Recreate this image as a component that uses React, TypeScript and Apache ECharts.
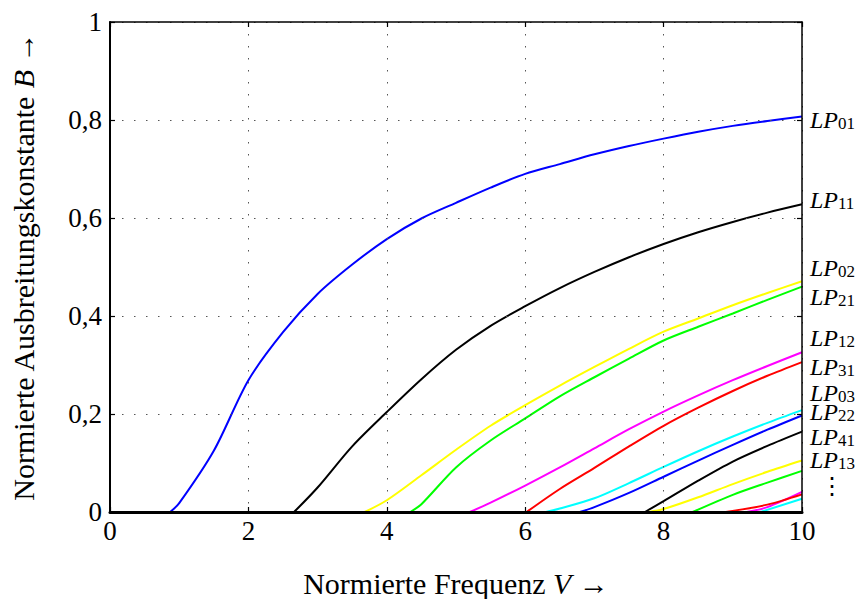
import React, { useEffect, useRef } from "react";
import * as echarts from "echarts";

// Normierte Frequenz V / Normierte Ausbreitungskonstante B
const lp01: number[][] = [[0.87, 0], [1.0, 0.018], [1.5, 0.125], [2.0, 0.269], [2.5, 0.367], [3.0, 0.445], [3.5, 0.505], [4.0, 0.557], [4.5, 0.599], [5.0, 0.631], [5.5, 0.662], [6.0, 0.69], [6.5, 0.71], [7.0, 0.73], [7.5, 0.747], [8.0, 0.762], [8.5, 0.776], [9.0, 0.788], [9.5, 0.798], [10, 0.807]];
const lp11: number[][] = [[2.66, 0], [3.0, 0.05], [3.5, 0.134], [4.0, 0.204], [4.5, 0.271], [5.0, 0.331], [5.5, 0.38], [6.0, 0.42], [6.5, 0.457], [7.0, 0.49], [7.5, 0.52], [8.0, 0.547], [8.5, 0.571], [9.0, 0.592], [9.5, 0.611], [10, 0.628]];
const lp02: number[][] = [[3.68, 0], [4.0, 0.024], [4.5, 0.075], [5.0, 0.127], [5.5, 0.176], [6.0, 0.218], [6.5, 0.258], [7.0, 0.296], [7.5, 0.333], [8.0, 0.368], [8.5, 0.395], [9.0, 0.422], [9.5, 0.447], [10, 0.471]];
const lp21: number[][] = [[4.34, 0], [4.5, 0.016], [5.0, 0.091], [5.5, 0.146], [6.0, 0.191], [6.5, 0.236], [7.0, 0.275], [7.5, 0.313], [8.0, 0.35], [8.5, 0.378], [9.0, 0.405], [9.5, 0.433], [10, 0.46]];
const lp12: number[][] = [[5.2, 0], [5.5, 0.019], [6.0, 0.054], [6.5, 0.091], [7.0, 0.13], [7.5, 0.169], [8.0, 0.205], [8.5, 0.238], [9.0, 0.269], [9.5, 0.298], [10, 0.326]];
const lp31: number[][] = [[6.02, 0], [6.5, 0.047], [7.0, 0.09], [7.5, 0.134], [8.0, 0.176], [8.5, 0.213], [9.0, 0.247], [9.5, 0.278], [10, 0.306]];
const lp03: number[][] = [[6.3, 0], [6.5, 0.007], [7.0, 0.028], [7.5, 0.059], [8.0, 0.092], [8.5, 0.124], [9.0, 0.154], [9.5, 0.182], [10, 0.208]];
const lp22: number[][] = [[6.79, 0], [7.0, 0.01], [7.5, 0.039], [8.0, 0.072], [8.5, 0.105], [9.0, 0.137], [9.5, 0.168], [10, 0.197]];
const lp41: number[][] = [[7.73, 0], [8.0, 0.022], [8.5, 0.064], [9.0, 0.103], [9.5, 0.135], [10, 0.164]];
const lp13: number[][] = [[7.78, 0], [8.0, 0.006], [8.5, 0.03], [9.0, 0.057], [9.5, 0.082], [10, 0.105]];
const mode11: number[][] = [[8.42, 0], [9.0, 0.035], [9.5, 0.06], [10, 0.084]];
const mode12: number[][] = [[9.2, 0], [9.5, 0.01], [10, 0.041]];
const mode13: number[][] = [[8.9, 0], [9.5, 0.015], [10, 0.036]];
const mode14: number[][] = [[9.4, 0], [10, 0.027]];

const modeData = [lp01, lp11, lp02, lp21, lp12, lp31, lp03, lp22, lp41, lp13, mode11, mode12, mode13, mode14];
const modeSub = ["01", "11", "02", "21", "12", "31", "03", "22", "41", "13", "", "", "", ""];
const modeColors = ["#0000ff", "#000000", "#ffff00", "#00ff00", "#ff00ff", "#ff0000", "#00ffff", "#0000ff", "#000000", "#ffff00", "#00ff00", "#ff00ff", "#ff0000", "#00ffff"];
const labelShift = [3, -4, -13, 10, -14, 5, -17, -3, 5, -1, 0, 0, 0, 0];

const xTicks = [0, 2, 4, 6, 8, 10];
const yTicks = [0, 0.2, 0.4, 0.6, 0.8, 1];

const FONT = "'Liberation Serif', 'DejaVu Serif', serif";

export default function App() {
  const ref = useRef<HTMLDivElement>(null);
  useEffect(() => {
    if (!ref.current) return;
    const chart = echarts.init(ref.current, undefined, { renderer: "svg" });
    const dotted = { type: [1.5, 10.5] as any, color: "#555", width: 1 };
    const richName = {
      r: { fontFamily: FONT, fontSize: 30, color: "#000", lineHeight: 30 },
      i: { fontFamily: FONT, fontSize: 30, fontStyle: "italic", color: "#000", lineHeight: 30 },
    };
    const option: any = {
      animation: false,
      grid: { left: 102, right: 58, top: 14, bottom: 87, containLabel: false, outerBoundsMode: "none" },
      xAxis: [
        {
          type: "value", min: xTicks[0], max: xTicks[xTicks.length - 1], interval: 2, position: "bottom", z: 10,
          axisLine: { show: true, onZero: false, lineStyle: { color: "#000", width: 3 } },
          axisTick: { show: true, inside: true, length: 5, lineStyle: { color: "#000", width: 1.2 } },
          axisLabel: { fontFamily: FONT, fontSize: 27, color: "#000", margin: 5 },
          splitLine: { show: true, lineStyle: dotted },
          name: "{r|Normierte Frequenz }{i|V}{r| →}", nameLocation: "middle", nameGap: 56,
          nameTextStyle: { rich: richName },
        },
        {
          type: "value", min: xTicks[0], max: xTicks[xTicks.length - 1], interval: 2, position: "top", z: 10,
          axisLine: { show: true, onZero: false, lineStyle: { color: "#000", width: 1.5 } },
          axisTick: { show: true, inside: true, length: 5, lineStyle: { color: "#000", width: 1.2 } },
          axisLabel: { show: false }, splitLine: { show: false },
        },
      ],
      yAxis: [
        {
          type: "value", min: yTicks[0], max: yTicks[yTicks.length - 1], interval: 0.2, position: "left", z: 10,
          axisLine: { show: true, onZero: false, lineStyle: { color: "#000", width: 2 } },
          axisTick: { show: true, inside: true, length: 5, lineStyle: { color: "#000", width: 1.2 } },
          axisLabel: {
            fontFamily: FONT, fontSize: 27, color: "#000", margin: 8,
            formatter: (v: number) => String(Math.round(v * 10) / 10).replace(".", ","),
          },
          splitLine: { show: true, lineStyle: dotted },
          name: "{r|Normierte Ausbreitungskonstante }{i|B}{r| →}", nameLocation: "middle", nameGap: 72,
          nameTextStyle: { rich: richName },
        },
        {
          type: "value", min: yTicks[0], max: yTicks[yTicks.length - 1], interval: 0.2, position: "right", z: 10,
          axisLine: { show: true, onZero: false, lineStyle: { color: "#000", width: 1.5 } },
          axisTick: { show: true, inside: true, length: 5, lineStyle: { color: "#000", width: 1.2 } },
          axisLabel: { show: false }, splitLine: { show: false },
        },
      ],
      series: modeData.map((d, i) => ({
        type: "line",
        data: d,
        showSymbol: false,
        smooth: 0.3,
        lineStyle: { color: modeColors[i], width: 2 },
        itemStyle: { color: modeColors[i] },
        z: 2,
        endLabel: modeSub[i]
          ? {
              show: true,
              distance: 8,
              offset: [0, labelShift[i]],
              formatter: `{a|LP}{b|${modeSub[i]}}`,
              rich: {
                a: { fontFamily: FONT, fontStyle: "italic", fontSize: 24, color: "#000", lineHeight: 24 },
                b: { fontFamily: FONT, fontSize: 17, color: "#000", lineHeight: 10, verticalAlign: "bottom" },
              },
            }
          : { show: false },
      })),
      graphic: [
        { type: "text", left: 812, top: 466, style: { text: "⋮", font: "24px 'DejaVu Serif'", fill: "#000" } },
      ],
    };
    chart.setOption(option);
    return () => chart.dispose();
  }, []);
  return <div ref={ref} style={{ width: 852, height: 591 }} />;
}
